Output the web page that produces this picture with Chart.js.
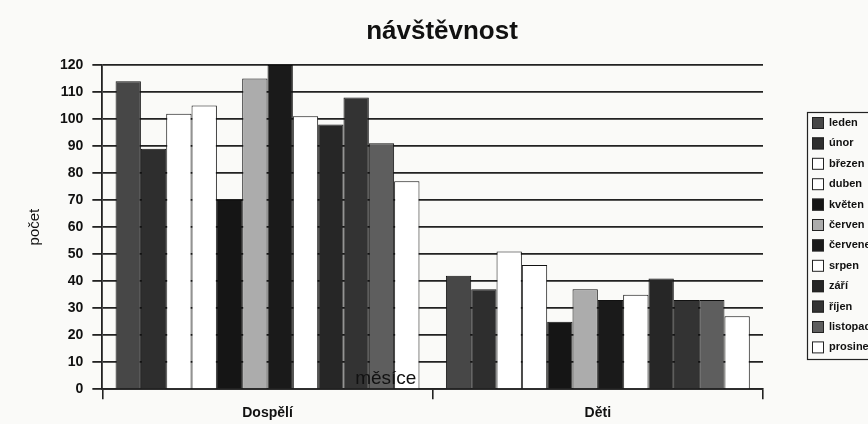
<!DOCTYPE html>
<html>
<head>
<meta charset="utf-8">
<script src="https://cdn.jsdelivr.net/npm/chart.js@4"></script>
<style>
  html, body { margin: 0; padding: 0; background: #fafaf8; overflow: hidden; }
  #wrap { width: 868px; height: 424px; }
</style>
</head>
<body>
<div id="wrap"><canvas id="navstevnostChart"></canvas></div>
<script>
// kategorie a měsíce
const kategorie = ['Dospělí', 'Děti'];
const mesice = ['leden', 'únor', 'březen', 'duben', 'květen', 'červen', 'červenec', 'srpen', 'září', 'říjen', 'listopad', 'prosinec'];

// hodnoty po měsících: [Dospělí, Děti]
const leden = [114, 42];
const unor = [89, 37];
const brezen = [102, 51];
const duben = [105, 46];
const kveten = [70, 25];
const cerven = [115, 37];
const cervenec = [120, 33];
const srpen = [101, 35];
const zari = [98, 41];
const rijen = [108, 33];
const listopad = [91, 33];
const prosinec = [77, 27];

const hodnoty = [leden, unor, brezen, duben, kveten, cerven, cervenec, srpen, zari, rijen, listopad, prosinec];
const barvy = ['#474747', '#2e2e2e', '#ffffff', '#ffffff', '#151515', '#acacac', '#1a1a1a', '#ffffff', '#262626', '#333333', '#5e5e5e', '#ffffff'];

const font = 'Liberation Sans, Arial, sans-serif';

// titulek, legenda v rámečku a popisek "měsíce" přes sloupce
const extras = {
    id: 'extras',
    afterDraw(chart) {
        const ctx = chart.ctx;
        const a = chart.chartArea;
        ctx.save();

        ctx.fillStyle = '#111';
        ctx.textAlign = 'center';
        ctx.textBaseline = 'middle';
        ctx.font = 'bold 26px ' + font;
        ctx.fillText('návštěvnost', 442, 32);

        ctx.font = '19px ' + font;
        ctx.textBaseline = 'bottom';
        ctx.fillText('měsíce', a.left + (a.right - a.left) * 0.429, a.bottom - 1);

        // legenda
        ctx.strokeStyle = '#222';
        ctx.lineWidth = 1.2;
        ctx.strokeRect(807.5, 112.5, 80, 247);
        ctx.font = 'bold 11px ' + font;
        ctx.textAlign = 'left';
        ctx.textBaseline = 'middle';
        chart.data.datasets.forEach((ds, i) => {
            const y = 123 + i * 20.4;
            ctx.fillStyle = ds.backgroundColor;
            ctx.fillRect(812, y - 6, 12, 12);
            ctx.strokeStyle = '#222';
            ctx.lineWidth = 1;
            ctx.strokeRect(812.5, y - 5.5, 11, 11);
            ctx.fillStyle = '#111';
            ctx.fillText(ds.label, 829, y);
        });
        ctx.restore();
    }
};

new Chart(document.getElementById('navstevnostChart'), {
    type: 'bar',
    data: {
        labels: kategorie,
        datasets: mesice.map((m, i) => ({
            label: m,
            data: hodnoty[i],
            backgroundColor: barvy[i],
            borderColor: '#111',
            borderWidth: 1,
            barPercentage: 1.0,
            categoryPercentage: 0.92
        }))
    },
    options: {
        responsive: true,
        maintainAspectRatio: false,
        animation: false,
        layout: { padding: { left: 20, right: 105, top: 65, bottom: -4 } },
        plugins: {
            title: { display: false },
            legend: { display: false },
            tooltip: { enabled: false }
        },
        scales: {
            x: {
                grid: { drawOnChartArea: false, drawTicks: true, tickLength: 10, color: '#222', lineWidth: 1.6, offset: true },
                border: { color: '#222', width: 1.8 },
                ticks: { color: '#111', font: { family: font, size: 14, weight: 'bold' }, padding: 6 }
            },
            y: {
                min: 0,
                max: 120,
                ticks: { stepSize: 10, color: '#111', font: { family: font, size: 14, weight: 'bold' }, padding: 9 },
                grid: { color: '#222', lineWidth: 1.8, tickLength: 10 },
                border: { color: '#222', width: 1.8 },
                title: {
                    display: true,
                    text: 'počet',
                    color: '#111',
                    font: { family: font, size: 15 },
                    padding: { top: 6, bottom: 7 }
                }
            }
        }
    },
    plugins: [extras]
});
</script>
</body>
</html>
